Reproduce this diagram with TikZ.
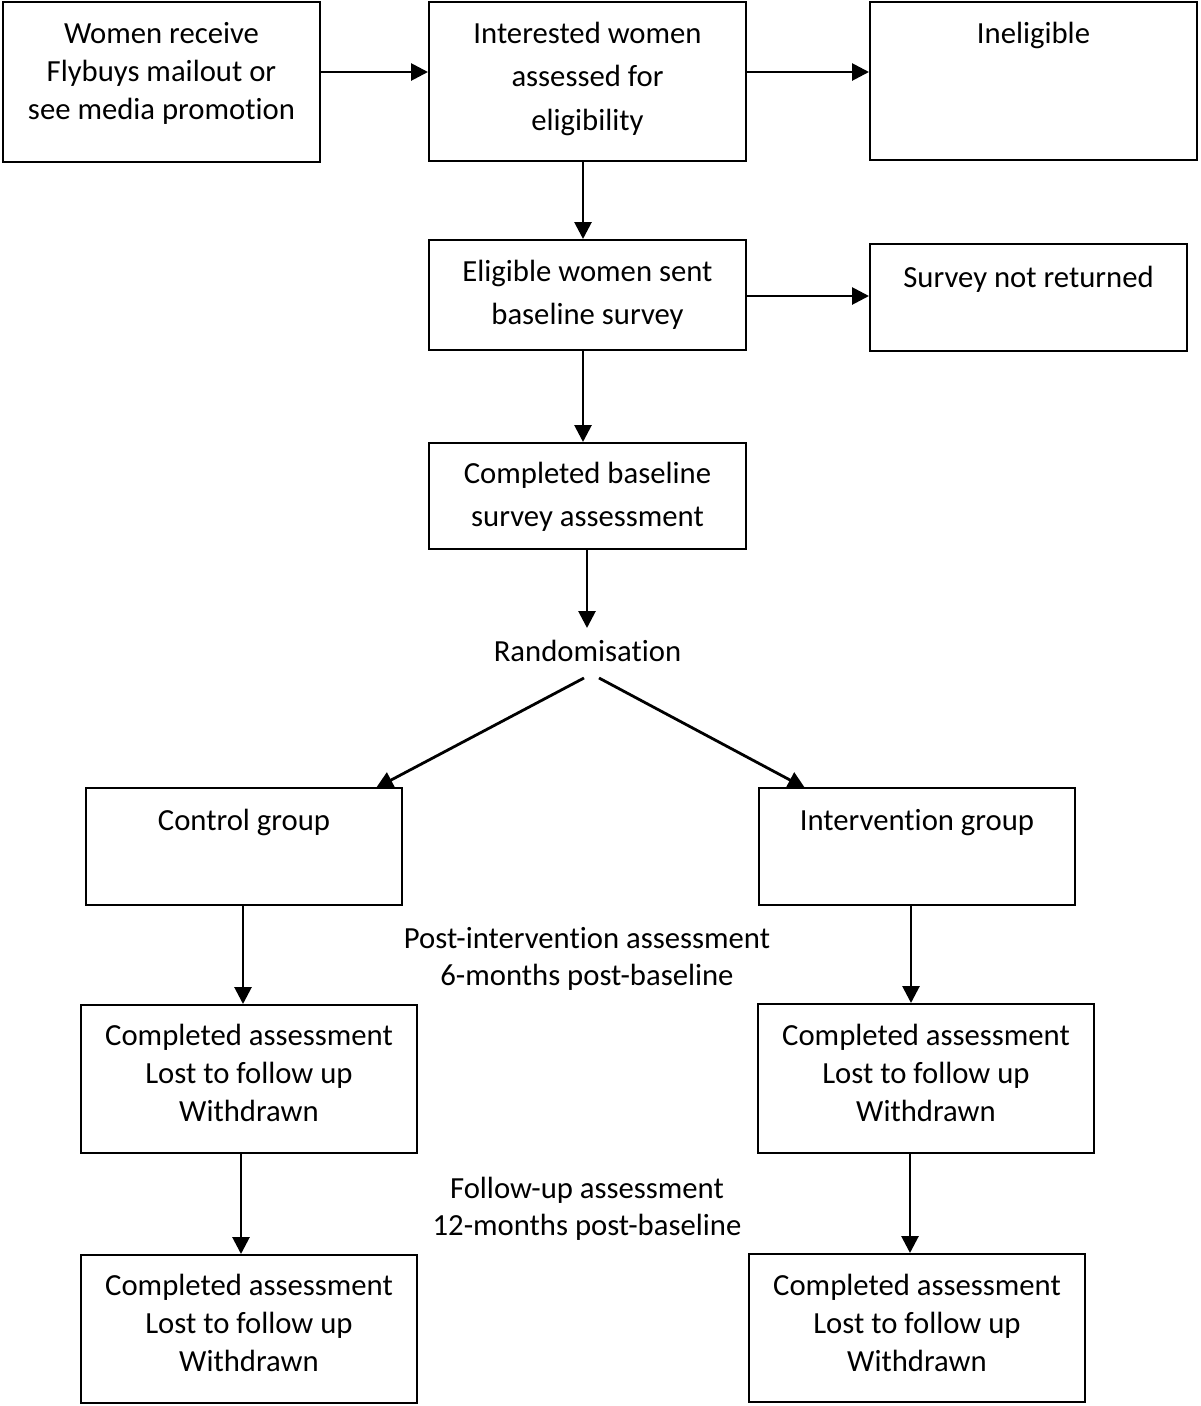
\documentclass[tikz,border=0pt]{standalone}
\usepackage{fontspec}
\setmainfont{Carlito}[Ligatures={NoCommon}]
\usetikzlibrary{arrows.meta}
\begin{document}
\begin{tikzpicture}[x=1pt,y=-1pt,
  box/.style={draw, line width=2pt, inner sep=0pt},
  txt/.style={font=\fontsize{30.7}{38}\selectfont, align=center, inner sep=0pt, anchor=north},
  wtxt/.style={txt, font=\fontsize{30.7}{43.5}\selectfont},
  arr/.style={line width=2.8pt, -{Triangle[length=17pt,width=17pt]}}]
\useasboundingbox (0,0) rectangle (1200,1406);
% boxes
\node[box, minimum width=317, minimum height=160] (b1) at (161.5,82) {};
\node[box, minimum width=317, minimum height=159] (b2) at (587.5,81.5) {};
\node[box, minimum width=327, minimum height=158] (b3) at (1033.5,81) {};
\node[box, minimum width=317, minimum height=110] (b4) at (587.5,295) {};
\node[box, minimum width=317, minimum height=107] (b5) at (1028.5,297.5) {};
\node[box, minimum width=317, minimum height=106] (b6) at (587.5,496) {};
\node[box, minimum width=316, minimum height=117] (b8) at (244,846.5) {};
\node[box, minimum width=316, minimum height=117] (b9) at (917,846.5) {};
\node[box, minimum width=336, minimum height=148] (b11) at (249,1079) {};
\node[box, minimum width=336, minimum height=149] (b12) at (926,1078.5) {};
\node[box, minimum width=336, minimum height=148] (b14) at (249,1329) {};
\node[box, minimum width=336, minimum height=148] (b15) at (917,1328) {};
% texts
\node[txt] (t1) at (161.5,19) {\rule{0pt}{24pt}Women receive\\Flybuys mailout or\\see media promotion};
\node[wtxt] (t2) at (587.5,19) {\rule{0pt}{24pt}Interested women\\assessed for\\eligibility};
\node[txt] (t3) at (1033.5,19) {\rule{0pt}{24pt}Ineligible};
\node[wtxt] (t4) at (587.5,257) {\rule{0pt}{24pt}Eligible women sent\\baseline survey};
\node[txt] (t5) at (1028.5,263) {\rule{0pt}{24pt}Survey not returned};
\node[wtxt] (t6) at (587.5,459) {\rule{0pt}{24pt}Completed baseline\\survey assessment};
\node[txt] (rand) at (587.5,637) {\rule{0pt}{24pt}Randomisation};
\node[txt] (t8) at (244,806) {\rule{0pt}{24pt}Control group};
\node[txt] (t9) at (917,806) {\rule{0pt}{24pt}Intervention group};
\node[txt, font=\fontsize{30.7}{37}\selectfont] (post) at (587,924) {\rule{0pt}{24pt}Post-intervention assessment\\6-months post-baseline};
\node[txt] (t11) at (249,1021) {\rule{0pt}{24pt}Completed assessment\\Lost to follow up\\Withdrawn};
\node[txt] (t12) at (926,1021) {\rule{0pt}{24pt}Completed assessment\\Lost to follow up\\Withdrawn};
\node[txt, font=\fontsize{30.7}{37}\selectfont] (fol) at (587,1174) {\rule{0pt}{24pt}Follow-up assessment\\12-months post-baseline};
\node[txt] (t14) at (249,1271) {\rule{0pt}{24pt}Completed assessment\\Lost to follow up\\Withdrawn};
\node[txt] (t15) at (917,1271) {\rule{0pt}{24pt}Completed assessment\\Lost to follow up\\Withdrawn};
% connectors
\coordinate (rl) at (584,678);
\coordinate (rr) at (599,678);
\draw[arr] (b1.east |- 0,72) -- (b2.west |- 0,72);
\draw[arr] (b2.east |- 0,72) -- (b3.west |- 0,72);
\draw[arr] (b2.south -| 583,0) -- (b4.north -| 583,0);
\draw[arr] (b4.east |- 0,296) -- (b5.west |- 0,296);
\draw[arr] (b4.south -| 583,0) -- (b6.north -| 583,0);
\draw[arr] (b6.south -| 587,0) -- (587,628);
\draw[arr] (rl) -- (376,788);
\draw[arr] (rr) -- (805,788);
\draw[arr] (b8.south -| 243,0) -- (b11.north -| 243,0);
\draw[arr] (b9.south -| 911,0) -- (b12.north -| 911,0);
\draw[arr] (b11.south -| 241,0) -- (b14.north -| 241,0);
\draw[arr] (b12.south -| 910,0) -- (b15.north -| 910,0);
\end{tikzpicture}
\end{document}
